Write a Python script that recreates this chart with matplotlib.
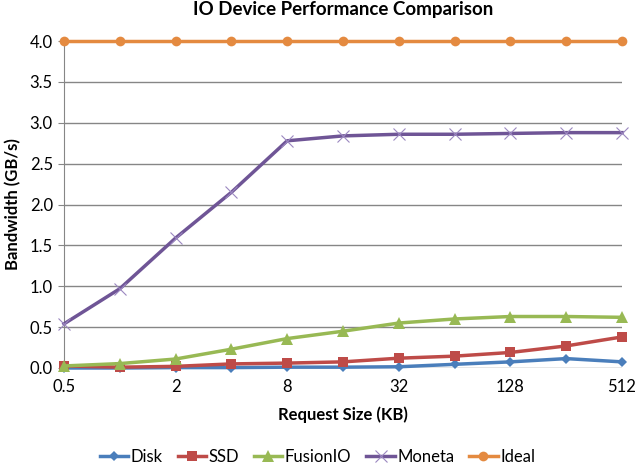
import matplotlib
matplotlib.use("Agg")
import matplotlib.pyplot as plt

plt.rcParams["font.family"] = ["Lato", "DejaVu Sans"]

sizes = ["0.5", "1", "2", "4", "8", "16", "32", "64", "128", "256", "512"]
disk = [0.0, 0.0, 0.005, 0.005, 0.01, 0.01, 0.015, 0.045, 0.075, 0.115, 0.075]
ssd = [0.025, 0.01, 0.02, 0.05, 0.06, 0.075, 0.12, 0.145, 0.19, 0.27, 0.38]
fusionio = [0.025, 0.054, 0.11, 0.23, 0.36, 0.45, 0.55, 0.60, 0.63, 0.63, 0.62]
moneta = [0.54, 0.97, 1.59, 2.15, 2.78, 2.84, 2.86, 2.86, 2.87, 2.88, 2.88]
ideal = [4.0] * 11

series = [
    ("Disk", disk, "#4A7EBB", "D", 5),
    ("SSD", ssd, "#BE4B48", "s", 7),
    ("FusionIO", fusionio, "#98B954", "^", 8),
    ("Moneta", moneta, "#6F5596", "x", 8),
    ("Ideal", ideal, "#E48A40", "o", 7),
]

fig = plt.figure(figsize=(6.35, 4.67), dpi=100)
ax = fig.add_axes([0.1008, 0.212, 0.8787, 0.700])
x = list(range(len(sizes)))
for name, vals, col, mk, ms in series:
    if mk == "x":
        ax.plot(x, vals, color=col, lw=2.5, marker=mk, ms=ms, mew=0.8,
                mec="#9B87C0", label=name, clip_on=False, zorder=3)
    else:
        ax.plot(x, vals, color=col, lw=2.5, marker=mk, ms=ms, mew=0,
                label=name, clip_on=False, zorder=3)

ax.set_xlim(0, len(sizes) - 1)
ax.set_ylim(0, 4.0)
ax.set_yticks([i * 0.5 for i in range(9)])
ax.set_yticklabels([f"{i * 0.5:.1f}" for i in range(9)], fontsize=12)
ax.set_xticks(x[::2])
ax.set_xticklabels(sizes[::2], fontsize=12)
ax.tick_params(axis="x", length=0, pad=8)
ax.tick_params(axis="y", length=4, color="#868686", pad=4)
ax.grid(axis="y", color="#868686", lw=1)
ax.set_axisbelow(True)
for s in ["top", "right", "bottom"]:
    ax.spines[s].set_visible(False)
ax.spines["left"].set_color("#868686")

ax.set_title("IO Device Performance Comparison", fontsize=13.5, fontweight="bold", pad=19)
ax.set_xlabel("Request Size (KB)", fontsize=12, fontweight="bold", labelpad=8)
ax.set_ylabel("Bandwidth (GB/s)", fontsize=12, fontweight="bold", labelpad=6)

fig.legend(*ax.get_legend_handles_labels(), loc="center", bbox_to_anchor=(0.5, 10 / 467),
           ncol=5, frameon=False, fontsize=12, handlelength=1.7, handletextpad=0.15,
           columnspacing=0.9, borderpad=0)

fig.savefig("out.png", dpi=100)
